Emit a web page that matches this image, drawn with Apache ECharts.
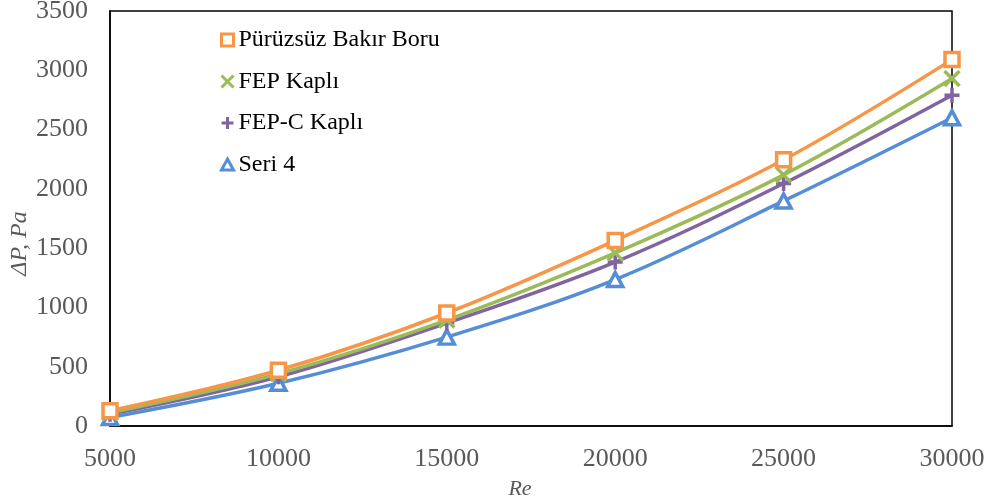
<!DOCTYPE html>
<html><head><meta charset="utf-8">
<script src="https://cdn.jsdelivr.net/npm/echarts@6/dist/echarts.min.js"></script>
<style>html,body{margin:0;padding:0;background:#fff}#c{width:989px;height:504px}</style>
</head><body><div id="c"></div>
<script>
var categories = [5000, 10000, 15000, 20000, 25000, 30000];
var seriesNames = ['Pürüzsüz Bakır Boru', 'FEP Kaplı', 'FEP-C Kaplı', 'Seri 4'];
var smoothCopper = [128, 470, 953, 1565, 2245, 3090];
var fepCoated = [112, 440, 893, 1460, 2118, 2930];
var fepCCoated = [100, 415, 868, 1383, 2045, 2790];
var seri4 = [72, 360, 750, 1235, 1898, 2600];
var yTicks = [0, 500, 1000, 1500, 2000, 2500, 3000, 3500];

var colors = ['#F79646', '#9BBB59', '#8064A2', '#558ED5'];
var squarePath = 'path://M0,0L10,0L10,10L0,10Z';
var xPath = 'path://M0,0L10,10M10,0L0,10';
var plusPath = 'path://M5,0L5,10M0,5L10,5';
var triPath = 'path://M5,0L10,9L0,9Z';
var symbols = [squarePath, xPath, plusPath, triPath];
var fills = ['#fff', '#9BBB59', '#8064A2', '#fff'];
var symbolSizes = [[14, 14], [15, 15], [15, 15], [15, 14]];
var allData = [smoothCopper, fepCoated, fepCCoated, seri4];

function pairs(vals){ return categories.map(function(x,i){ return [x, vals[i]]; }); }

var series = allData.map(function(vals, i){
  return {
    name: seriesNames[i],
    type: 'line',
    data: pairs(vals),
    smooth: 0.35,
    symbol: symbols[i],
    symbolSize: symbolSizes[i],
    showAllSymbol: true,
    lineStyle: { color: colors[i], width: 3.5 },
    itemStyle: { color: fills[i], borderColor: colors[i], borderWidth: 3.5 },
    z: 10 - i
  };
});

var chart = echarts.init(document.getElementById('c'), null, {renderer: 'canvas'});
chart.setOption({
  animation: false,
  backgroundColor: '#fff',
  grid: { left: 110, right: 37, top: 11, bottom: 78, show: true, borderColor: '#000', borderWidth: 1.5,
          backgroundColor: 'transparent', containLabel: false, outerBoundsMode: 'none' },
  legend: {
    orient: 'vertical', left: 215, top: 23, itemGap: 17.5, itemWidth: 12, itemHeight: 12,
    textStyle: { fontFamily: 'Liberation Serif', fontSize: 24, lineHeight: 24, color: '#000' },
    data: seriesNames.map(function(n, i){ return { name: n, icon: symbols[i], itemStyle: { color: fills[i], borderColor: colors[i], borderWidth: 3 } }; })
  },
  xAxis: {
    type: 'value', min: 5000, max: 30000, interval: 5000,
    name: 'Re', nameLocation: 'middle', nameGap: 52, nameMoveOverlap: false,
    nameTextStyle: { fontFamily: 'Liberation Serif', fontStyle: 'italic', fontSize: 22, color: '#595959', padding: [0, 22, 0, 0] },
    axisLine: { show: true, lineStyle: { color: '#000', width: 1.5 } },
    axisTick: { show: false }, splitLine: { show: false },
    axisLabel: { margin: 20, fontFamily: 'Liberation Serif', fontSize: 26, color: '#595959',
      formatter: function(v){ return String(v); } }
  },
  yAxis: {
    type: 'value', min: 0, max: 3500, interval: 500,
    name: 'ΔP, Pa', nameLocation: 'middle', nameGap: 78, nameMoveOverlap: false,
    nameTextStyle: { fontFamily: 'Liberation Serif', fontStyle: 'italic', fontSize: 24, color: '#595959', padding: [0, 50, 0, 0] },
    axisLine: { show: true, lineStyle: { color: '#000', width: 1.5 } },
    axisTick: { show: false }, splitLine: { show: false },
    axisLabel: { margin: 22, fontFamily: 'Liberation Serif', fontSize: 26, color: '#595959',
      formatter: function(v){ return yTicks.indexOf(v) >= 0 ? String(v) : ''; } }
  },
  series: series
});
</script></body></html>
